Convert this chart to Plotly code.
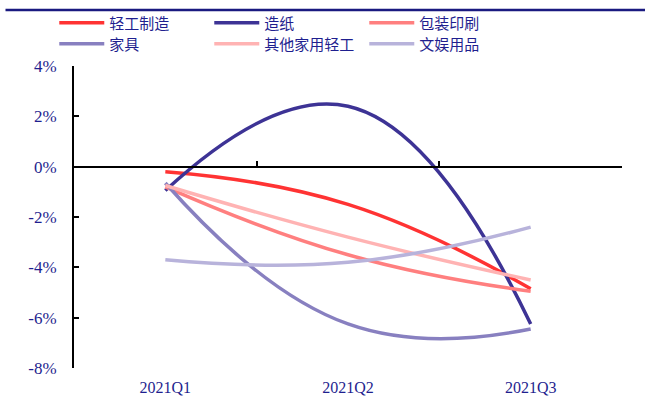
import plotly.graph_objects as go

categories = ["2021Q1", "2021Q2", "2021Q3"]
series_names = ["轻工制造", "造纸", "包装印刷", "家具", "其他家用轻工", "文娱用品"]
qinggong = [-0.2, -1.5, -4.85]
zaozhi = [-0.95, 2.4, -6.25]
baozhuang = [-0.8, -3.5, -4.95]
jiaju = [-0.65, -6.25, -6.45]
qita = [-0.75, -2.8, -4.5]
wenyu = [-3.7, -3.8, -2.4]
colors = ["#FF3333", "#3D3395", "#FF7F7F", "#8880C0", "#FFB3B3", "#B8B3DB"]
y_ticks = [-8, -6, -4, -2, 0, 2, 4]
y_ticktext = ["-8%", "-6%", "-4%", "-2%", "0%", "2%", "4%"]

values = [qinggong, zaozhi, baozhuang, jiaju, qita, wenyu]
navy = "#1F1F8F"

fig = go.Figure()
for i, (name, vals, col) in enumerate(zip(series_names, values, colors)):
    fig.add_trace(go.Scatter(
        x=categories, y=vals, name=name, mode="lines",
        line=dict(color=col, width=3.5, shape="spline", smoothing=1.3),
        legend="legend" if i < 3 else "legend2",
    ))

# helper axis drawn at zero with boundary ticks
fig.add_trace(go.Scatter(x=categories, y=[None, None, None], xaxis="x2",
                         showlegend=False, hoverinfo="skip", mode="lines"))

leg_common = dict(
    orientation="h", xanchor="left", yanchor="middle",
    font=dict(family="Noto Sans CJK SC", size=15, color=navy),
    entrywidth=95, entrywidthmode="pixels", itemwidth=45,
    bgcolor="rgba(0,0,0,0)", traceorder="normal",
)

fig.update_layout(
    width=645, height=405,
    margin=dict(l=74, r=23, t=66, b=37, autoexpand=False),
    plot_bgcolor="white", paper_bgcolor="white",
    showlegend=True,
    legend=dict(x=-0.036, y=1 + (66 - 23) / 302, **leg_common),
    legend2=dict(x=-0.036, y=1 + (66 - 44) / 302, **leg_common),
    xaxis=dict(
        type="category", range=[-0.5, 2.5], showline=False, showgrid=False,
        zeroline=False, ticks="", ticklabelstandoff=8,
        tickfont=dict(family="Liberation Serif", size=16, color=navy),
    ),
    xaxis2=dict(
        type="category", range=[-0.5, 2.5], overlaying="x", anchor="free",
        position=2 / 3, side="bottom", showline=True, linecolor="black",
        linewidth=2, ticks="inside", tickson="boundaries", ticklen=5,
        tickwidth=2, tickcolor="black", showticklabels=False, showgrid=False,
        zeroline=False,
    ),
    yaxis=dict(
        range=[-8, 4], tickvals=y_ticks, ticktext=y_ticktext,
        showgrid=False, zeroline=False,
        showline=True, linecolor="black", linewidth=2, ticks="inside",
        ticklen=5, tickwidth=2, tickcolor="black", ticklabelstandoff=12,
        tickfont=dict(family="Liberation Serif", size=17, color=navy),
    ),
    shapes=[dict(type="line", xref="paper", yref="paper",
                 x0=-0.125, x1=1.05, y0=1 + (66 - 10) / 302, y1=1 + (66 - 10) / 302,
                 line=dict(color="#1A1A80", width=2.5))],
)

fig.write_html("out.html")
